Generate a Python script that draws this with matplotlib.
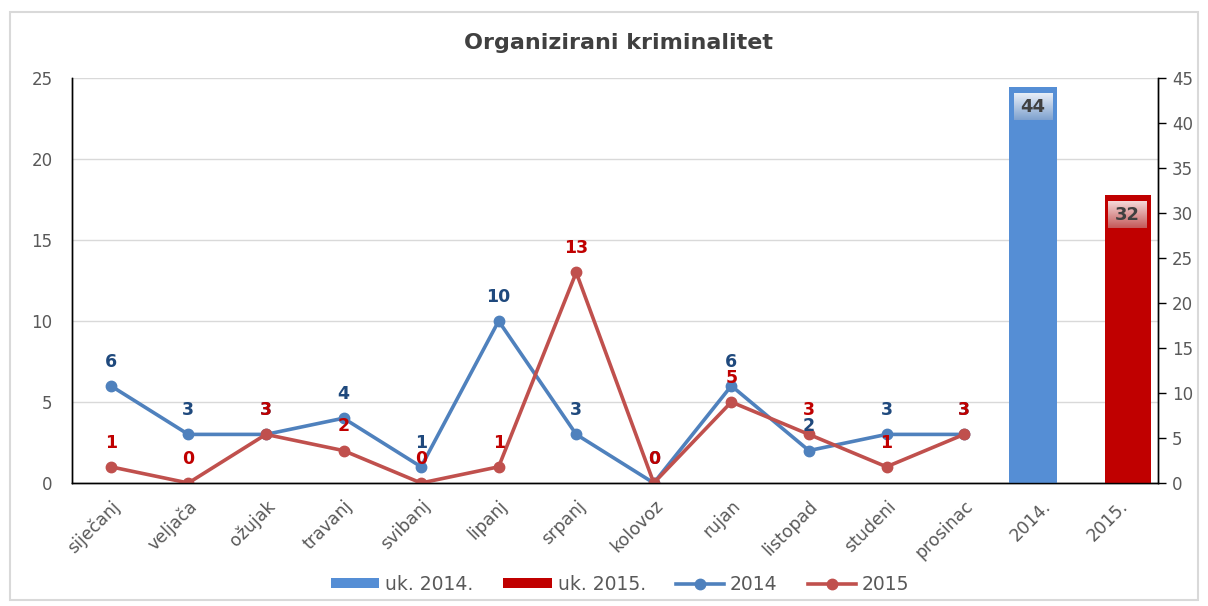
import matplotlib
matplotlib.use("Agg")
import numpy as np
import matplotlib.pyplot as plt
from matplotlib.patches import Rectangle, Patch
from matplotlib.lines import Line2D
from matplotlib.colors import to_rgb

plt.rcParams['font.family'] = ['DejaVu Sans']

categories = ["siječanj", "veljača", "ožujak", "travanj", "svibanj", "lipanj",
              "srpanj", "kolovoz", "rujan", "listopad", "studeni", "prosinac",
              "2014.", "2015."]
months_2014 = [6, 3, 3, 4, 1, 10, 3, 0, 6, 2, 3, 3]
months_2015 = [1, 0, 3, 2, 0, 1, 13, 0, 5, 3, 1, 3]
total_2014 = 44
total_2015 = 32
left_ticks = [0, 5, 10, 15, 20, 25]
right_ticks = [0, 5, 10, 15, 20, 25, 30, 35, 40, 45]

c_bar14 = '#558ED5'
c_bar15 = '#C00000'
c_line14 = '#4F81BD'
c_line15 = '#C0504D'
c_lab14 = '#1F497D'
c_lab15 = '#C00000'
gray = '#595959'

fig = plt.figure(figsize=(12.08, 6.06), dpi=100)
fig.patches.append(Rectangle((10/1208, 6/606), 1188/1208, 588/606, transform=fig.transFigure,
                             fill=False, edgecolor='#D9D9D9', linewidth=1.5))
ax = fig.add_axes([72/1208, 1-483/606, 1086/1208, 405/606])
ax2 = ax.twinx()

x = list(range(len(categories)))
xm = x[:12]

ax.set_xlim(-0.5, len(categories) - 0.5)
ax.set_ylim(0, 25)
ax.set_yticks(left_ticks)
ax2.set_ylim(0, 45)
ax2.set_yticks(right_ticks)

ax.grid(axis='y', color='#D9D9D9', linewidth=1)
ax.set_axisbelow(True)

# clustered bars (secondary axis)
bw = 0.62
off = 0.11
bx14 = x[12] - off
bx15 = x[13] + off
ax2.bar([bx14], [total_2014], width=bw, color=c_bar14, zorder=2)
ax2.bar([bx15], [total_2015], width=0.59, color=c_bar15, zorder=2)


def grad_box(axis, xc, top, c_top, c_bot, text):
    w = 0.5
    y1 = top - 0.8
    y0 = top - 3.7
    n = 64
    t = np.linspace(0, 1, n)[:, None]
    ct = np.array(to_rgb(c_top))
    cb = np.array(to_rgb(c_bot))
    img = (ct[None, :] * (1 - t) + cb[None, :] * t)[:, None, :]
    img = np.repeat(img, 2, axis=1)
    axis.imshow(img, extent=[xc - w/2, xc + w/2, y0, y1], origin='upper',
                aspect='auto', zorder=3, interpolation='bilinear')
    axis.text(xc, (y0 + y1) / 2, text, ha='center', va='center', fontsize=13,
              fontweight='bold', color='#404040', zorder=4)


grad_box(ax2, bx14, total_2014, '#E8EEF7', '#7FA2CF', str(total_2014))
grad_box(ax2, bx15, total_2015, '#F5D9D9', '#C45A5A', str(total_2015))
ax2.set_xlim(-0.5, len(categories) - 0.5)
ax2.set_ylim(0, 45)

# lines (primary axis)
ax.plot(xm, months_2014, color=c_line14, linewidth=2.6, marker='o', markersize=7.5, zorder=3)
ax.plot(xm, months_2015, color=c_line15, linewidth=2.6, marker='o', markersize=7.5, zorder=4)
for xi, v in zip(xm, months_2014):
    ax.annotate(str(v), (xi, v), xytext=(0, 11), textcoords='offset points', ha='center',
                va='bottom', fontsize=12.5, fontweight='bold', color=c_lab14, zorder=5)
for xi, v in zip(xm, months_2015):
    ax.annotate(str(v), (xi, v), xytext=(0, 11), textcoords='offset points', ha='center',
                va='bottom', fontsize=12.5, fontweight='bold', color=c_lab15, zorder=6)

ax.set_xticks(x)
ax.set_xticklabels(categories, rotation=45, ha='right', rotation_mode='anchor',
                   fontsize=12.5, color=gray)
ax.tick_params(axis='x', length=0, pad=10)
ax.tick_params(axis='y', length=0, labelsize=12, labelcolor=gray, pad=14)
ax2.tick_params(axis='y', length=6, width=1, labelsize=12, labelcolor=gray, pad=4)

for a in (ax, ax2):
    a.spines['top'].set_visible(False)
    for s in ('left', 'right', 'bottom'):
        a.spines[s].set_color('black')
        a.spines[s].set_linewidth(1)

fig.text(618/1208, 1-43/606, "Organizirani kriminalitet", ha='center', va='center',
         fontsize=16, fontweight='bold', color='#404040')

handles = [Patch(facecolor=c_bar14, edgecolor='none'),
           Patch(facecolor=c_bar15, edgecolor='none'),
           Line2D([], [], color=c_line14, linewidth=2.6, marker='o', markersize=7.5),
           Line2D([], [], color=c_line15, linewidth=2.6, marker='o', markersize=7.5)]
labels = ["uk. 2014.", "uk. 2015.", "2014", "2015"]
fig.legend(handles, labels, loc='center', bbox_to_anchor=(620/1208, 1-584/606), ncol=4,
           frameon=False, fontsize=13.5, handlelength=2.6, handleheight=0.5,
           columnspacing=1.6, handletextpad=0.3, labelcolor=gray)

fig.savefig("out.png", dpi=100)
